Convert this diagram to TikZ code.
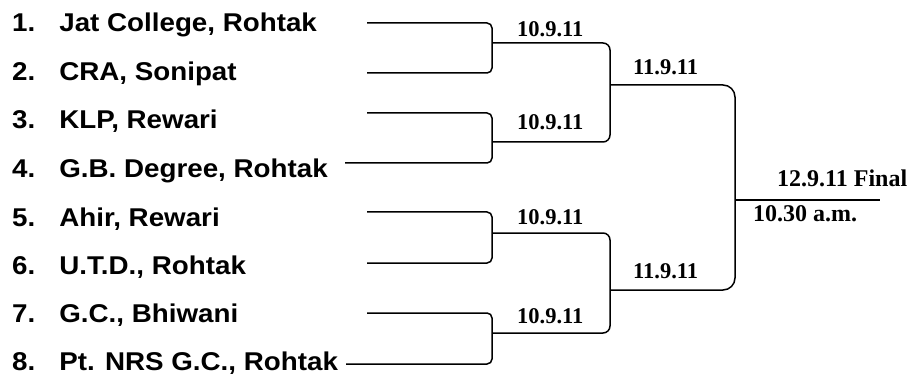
\documentclass[tikz,border=0pt]{standalone}
\usepackage{fontspec}
\setsansfont{Liberation Sans}[FakeStretch=1.08]
\setmainfont{Liberation Serif}

\begin{document}
\begin{tikzpicture}[x=1pt,y=-1pt,
  team/.style={anchor=base west,inner sep=0pt,font=\sffamily\bfseries\fontsize{25.7}{25.7}\selectfont},
  date/.style={anchor=base west,inner sep=0pt,font=\rmfamily\bfseries\fontsize{22.5}{22.5}\selectfont},
  final/.style={anchor=base west,inner sep=0pt,font=\rmfamily\bfseries\fontsize{24}{24}\selectfont},
  bracket/.style={line width=1.5pt,rounded corners=#1},
  bracket/.default=5pt]
\useasboundingbox (0,0) rectangle (911,377);

\node[team] (t1) at (12,32) {1.\hspace{24pt}Jat College, Rohtak};
\node[team] (t2) at (12,81) {2.\hspace{24pt}CRA, Sonipat};
\node[team] (t3) at (12,129) {3.\hspace{24pt}KLP, Rewari};
\node[team] (t4) at (12,178) {4.\hspace{24pt}G.B. Degree, Rohtak};
\node[team] (t5) at (12,226) {5.\hspace{24pt}Ahir, Rewari};
\node[team] (t6) at (12,274) {6.\hspace{24pt}U.T.D., Rohtak};
\node[team] (t7) at (12,322) {7.\hspace{24pt}G.C., Bhiwani};
\node[team] (t8) at (12,370) {8.\hspace{24pt}Pt. NRS G.C., Rohtak};

% line starts
\coordinate (a1) at (367,23);
\coordinate (a2) at (367,73);
\coordinate (a3) at (367,113);
\coordinate (a4) at (345,163);
\coordinate (a5) at (367,212);
\coordinate (a6) at (367,263);
\coordinate (a7) at (367,313);
\coordinate (a8) at (346,364);

% match points
\coordinate (m1) at (492,43);
\coordinate (m2) at (492,142);
\coordinate (m3) at (492,233);
\coordinate (m4) at (492,333);
\coordinate (s1) at (610,85);
\coordinate (s2) at (610,290);
\coordinate (f) at (735,200);
\coordinate (e) at (880,200);

\draw[bracket] (a1) -| (m1) |- (a2);
\draw[bracket] (a3) -| (m2) |- (a4);
\draw[bracket] (a5) -| (m3) |- (a6);
\draw[bracket] (a7) -| (m4) |- (a8);

\draw[bracket=7pt] (m1) -| (s1) |- (m2);
\draw[bracket=7pt] (m3) -| (s2) |- (m4);

\draw[bracket=12pt] (s1) -| (f) |- (s2);
\draw[line width=2.5pt] (f) -- (e);

\node[date] (d1) at (517,37) {10.9.11};
\node[date] (d2) at (517,130) {10.9.11};
\node[date] (d3) at (517,225) {10.9.11};
\node[date] (d4) at (517,323) {10.9.11};
\node[date] (r1) at (633,75) {11.9.11};
\node[date] (r2) at (633,278) {11.9.11};
\node[final] (fin) at (777,187) {12.9.11 Final};
\node[final] (tm) at (753,222) {10.30 a.m.};
\end{tikzpicture}
\end{document}
